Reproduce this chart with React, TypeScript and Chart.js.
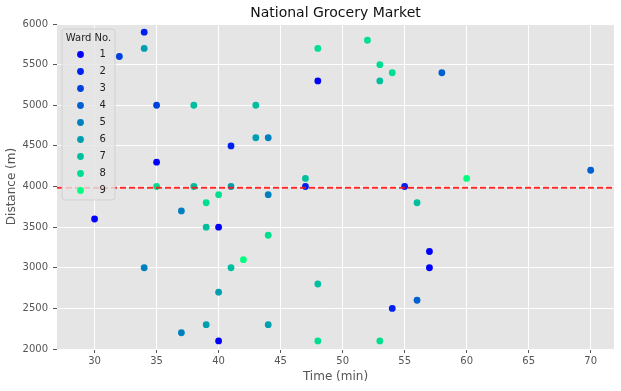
import React, { useEffect, useRef } from "react";
import { Chart, registerables } from "chart.js";

Chart.register(...registerables);

// ---- data ----
const wardLabels = ["1", "2", "3", "4", "5", "6", "7", "8", "9"];
const wardColors = ["#0000ff", "#0020ef", "#0040df", "#0060cf", "#0080bf", "#009faf", "#00bf9f", "#00df8f", "#00ff80"];

const times = [34, 34, 32, 35, 38, 43, 43, 44, 41, 35, 35, 38, 41, 40, 39, 30, 37, 39, 40, 42, 41, 34, 40, 39, 37, 40, 48, 52, 53, 54, 53, 48, 58, 47, 47, 55, 44, 56, 44, 57, 57, 48, 56, 54, 44, 48, 53, 70, 60];
const distances = [5900, 5700, 5600, 5000, 5000, 5000, 4600, 4600, 4500, 4300, 4000, 4000, 4000, 3900, 3800, 3600, 3700, 3500, 3500, 3100, 3000, 3000, 2700, 2300, 2200, 2100, 5700, 5800, 5500, 5400, 5300, 5300, 5400, 4100, 4000, 4000, 3900, 3800, 3400, 3200, 3000, 2800, 2600, 2500, 2300, 2100, 2100, 4200, 4100];
const wards = [2, 6, 3, 3, 7, 7, 6, 5, 2, 1, 8, 7, 6, 8, 8, 1, 5, 7, 1, 9, 7, 5, 6, 6, 5, 1, 8, 8, 8, 8, 7, 1, 4, 7, 2, 2, 5, 7, 8, 1, 1, 7, 4, 2, 6, 8, 8, 4, 9];

const xTicks = [30, 35, 40, 45, 50, 55, 60, 65, 70];
const yTicks = [2000, 2500, 3000, 3500, 4000, 4500, 5000, 5500, 6000];
const referenceDistance = 3985;

const chartTitle = "National Grocery Market";
const xTitle = "Time (min)";
const yTitle = "Distance (m)";
const legendTitle = "Ward No.";

const FONT = "'DejaVu Sans', sans-serif";

const decorPlugin = {
  id: "decor",
  beforeDraw(chart: any) {
    const { ctx, chartArea: a } = chart;
    ctx.save();
    ctx.fillStyle = "#e5e5e5";
    ctx.fillRect(a.left, a.top, a.right - a.left, a.bottom - a.top);
    ctx.restore();
  },
  beforeDatasetsDraw(chart: any) {},
  afterDatasetsDraw(chart: any) {
    const { ctx, chartArea: a } = chart;
    const y = chart.scales.y.getPixelForValue(referenceDistance);
    ctx.save();
    ctx.strokeStyle = "rgba(255,20,20,0.9)";
    ctx.lineWidth = 2;
    ctx.setLineDash([6, 3]);
    ctx.beginPath();
    ctx.moveTo(a.left, y);
    ctx.lineTo(a.right, y);
    ctx.stroke();
    ctx.restore();
  },
  afterDraw(chart: any) {
    const { ctx, chartArea: a } = chart;
    ctx.save();
    // title
    ctx.fillStyle = "#111";
    ctx.font = `14px ${FONT}`;
    ctx.textAlign = "center";
    ctx.textBaseline = "middle";
    ctx.fillText(chartTitle, (a.left + a.right) / 2, 13.5);

    // legend box
    const bx = a.left + 5;
    const by = a.top + 5;
    const bw = 53;
    const bh = 171;
    const r = 3;
    ctx.beginPath();
    ctx.moveTo(bx + r, by);
    ctx.lineTo(bx + bw - r, by);
    ctx.quadraticCurveTo(bx + bw, by, bx + bw, by + r);
    ctx.lineTo(bx + bw, by + bh - r);
    ctx.quadraticCurveTo(bx + bw, by + bh, bx + bw - r, by + bh);
    ctx.lineTo(bx + r, by + bh);
    ctx.quadraticCurveTo(bx, by + bh, bx, by + bh - r);
    ctx.lineTo(bx, by + r);
    ctx.quadraticCurveTo(bx, by, bx + r, by);
    ctx.closePath();
    ctx.fillStyle = "rgba(229,229,229,0.8)";
    ctx.fill();
    ctx.strokeStyle = "rgba(204,204,204,0.8)";
    ctx.lineWidth = 1;
    ctx.stroke();

    ctx.fillStyle = "#222";
    ctx.font = `10px ${FONT}`;
    ctx.textAlign = "center";
    ctx.fillText(legendTitle, bx + bw / 2, by + 9);
    ctx.textAlign = "left";
    wardLabels.forEach((lab, i) => {
      const yy = by + 25.5 + i * 17;
      ctx.beginPath();
      ctx.arc(bx + 18.5, yy, 3.4, 0, Math.PI * 2);
      ctx.fillStyle = wardColors[i];
      ctx.fill();
      ctx.fillStyle = "#222";
      ctx.fillText(lab, bx + 37.5, yy);
    });
    ctx.restore();
  },
};

export default function App() {
  const ref = useRef<HTMLCanvasElement | null>(null);
  useEffect(() => {
    if (!ref.current) return;
    const datasets = wardLabels.map((lab, wi) => {
      const pts: { x: number; y: number }[] = [];
      wards.forEach((w, i) => {
        if (w === wi + 1) pts.push({ x: times[i], y: distances[i] });
      });
      return {
        label: lab,
        data: pts,
        backgroundColor: wardColors[wi],
        borderColor: wardColors[wi],
        pointRadius: 3.4,
        pointBorderWidth: 0,
        showLine: false,
      };
    });
    const chart = new Chart(ref.current, {
      type: "scatter",
      data: { datasets },
      options: {
        animation: false,
        responsive: false,
        layout: { padding: { top: 24, right: 7, left: 0, bottom: 0 } },
        plugins: { legend: { display: false }, tooltip: { enabled: false }, title: { display: false } },
        scales: {
          x: {
            type: "linear",
            min: 26.97,
            max: 71.88,
            afterBuildTicks: (s: any) => {
              s.ticks = xTicks.map((v) => ({ value: v }));
            },
            afterFit: (s: any) => {
              s.height = 42;
            },
            border: { display: false },
            grid: { color: "#ffffff", lineWidth: 1, tickColor: "#555555", tickLength: 4, drawTicks: true },
            ticks: { color: "#555555", font: { family: FONT, size: 10 }, padding: 2, maxRotation: 0, callback: (v: any) => String(v) },
            title: { display: true, text: xTitle, color: "#555555", font: { family: FONT, size: 12 }, padding: { top: 0, bottom: 7 } },
          },
          y: {
            type: "linear",
            min: 2000,
            max: 6000,
            afterBuildTicks: (s: any) => {
              s.ticks = yTicks.map((v) => ({ value: v }));
            },
            afterFit: (s: any) => {
              s.width = 57;
            },
            border: { display: false },
            grid: { color: "#ffffff", lineWidth: 1, tickColor: "#555555", tickLength: 4, drawTicks: true },
            ticks: { color: "#555555", font: { family: FONT, size: 10 }, padding: 5, callback: (v: any) => String(v) },
            title: { display: true, text: yTitle, color: "#555555", font: { family: FONT, size: 12 }, padding: { top: 5, bottom: 0 } },
          },
        },
      },
      plugins: [decorPlugin],
    });
    return () => chart.destroy();
  }, []);
  return (
    <div style={{ position: "fixed", left: 0, top: 0, width: 621, height: 391, background: "#fff" }}>
      <canvas ref={ref} width={621} height={391} style={{ display: "block" }} />
    </div>
  );
}
